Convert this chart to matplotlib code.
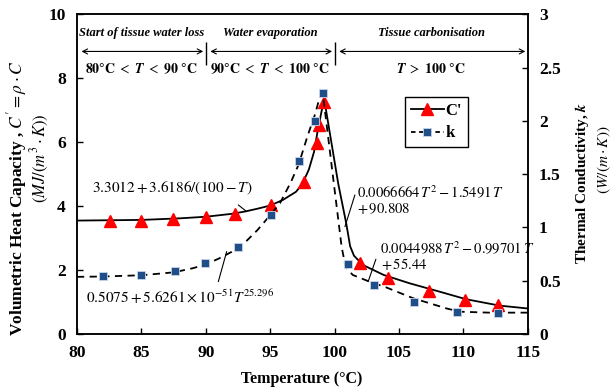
import matplotlib
matplotlib.use("Agg")
import matplotlib.pyplot as plt
from matplotlib.lines import Line2D

plt.rcParams['font.family'] = ['Liberation Serif', 'DejaVu Serif']
plt.rcParams['mathtext.fontset'] = 'stix'

# measured C' points (left axis, MJ/(m3 K))
c_T = [82.6, 85.0, 87.45, 90.0, 92.3, 95.03, 97.65, 98.6, 98.8, 99.17,
       101.99, 104.16, 107.3, 110.13, 112.67]
c_val = [3.55, 3.55, 3.60, 3.65, 3.77, 4.03, 4.77, 5.99, 6.54, 7.27,
         2.21, 1.75, 1.35, 1.05, 0.90]

# measured k points (right axis, W/(m K))
k_T = [82.04, 85.0, 87.6, 89.93, 92.47, 95.03, 97.25, 98.5, 99.07,
       101.03, 103.05, 106.18, 109.47, 112.7]
k_val = [0.545, 0.555, 0.59, 0.67, 0.82, 1.12, 1.62, 2.00, 2.26,
         0.655, 0.457, 0.30, 0.21, 0.20]

# fitted curves
cfit_T = [80, 85, 88, 90, 92, 93, 94, 95, 96, 97, 97.5, 98, 98.4, 98.7, 99.0, 99.2,
          100.28, 100.9, 101.2, 101.5, 102.2, 103.8, 105.8, 108.2, 110.2, 112.8, 115]
cfit_val = [3.55, 3.57, 3.62, 3.67, 3.76, 3.83, 3.92, 4.02, 4.20, 4.45, 4.70, 5.15,
            5.70, 6.40, 7.00, 7.32,
            4.70, 3.46, 2.75, 2.45, 2.16, 1.85, 1.59, 1.32, 1.09, 0.89, 0.80]

kfit_T = [80, 82, 85, 87.5, 89, 90, 91, 92, 93, 94, 95, 95.75, 96.6, 97.2, 97.9,
          98.5, 98.8, 99.07, 100.0, 100.54, 100.85, 101.4, 102.7, 104.0, 106.1,
          108.7, 109.7, 112, 115]
kfit_val = [0.537, 0.540, 0.552, 0.579, 0.618, 0.654, 0.708, 0.771, 0.855, 0.975,
            1.116, 1.227, 1.425, 1.59, 1.86, 2.07, 2.205, 2.268, 1.35, 0.819, 0.63,
            0.555, 0.492, 0.438, 0.336, 0.24, 0.21, 0.201, 0.201]

# phases along the top
phase_edges = [80, 90, 100, 115]
phase_names = ["Start of tissue water loss", "Water evaporation", "Tissue carbonisation"]
phase_ranges = [r"$\mathbf{80°C}\ <\ \mathbfit{T}\ <\ \mathbf{90\ °C}$",
                r"$\mathbf{90°C}\ <\ \mathbfit{T}\ <\ \mathbf{100\ °C}$",
                r"$\mathbfit{T}\ >\ \mathbf{100\ °C}$"]

left_ticks = [0, 2, 4, 6, 8, 10]
right_ticks = [0, 0.5, 1, 1.5, 2, 2.5, 3]
right_labels = ["0", "0.5", "1", "1.5", "2", "2.5", "3"]
x_ticks = [80, 85, 90, 95, 100, 105, 110, 115]

red = '#ff0000'
blue = '#1f4e89'

fig = plt.figure(figsize=(6.11, 3.88), dpi=100)
ax = fig.add_axes([0.126, 0.139, 0.738, 0.824])
ax2 = ax.twinx()

ax.plot(cfit_T, cfit_val, color='black', lw=1.3, zorder=2)
ax.plot(c_T, c_val, linestyle='none', marker='^', ms=8, color=red, mec=red, zorder=3)
ax2.plot(kfit_T, kfit_val, color='black', lw=1.3, linestyle=(0, (4, 3)), zorder=2)
ax2.plot(k_T, k_val, linestyle='none', marker='s', ms=6, color=blue,
         mec='#c9d5ea', mew=0.6, zorder=3)

ax.set_xlim(80, 115)
ax.set_ylim(0, 10)
ax2.set_ylim(0, 3)
ax.set_xticks(x_ticks)
ax.set_yticks(left_ticks)
ax2.set_yticks(right_ticks)
ax2.set_yticklabels(right_labels)

for a in (ax, ax2):
    a.tick_params(direction='in', length=4, width=1, pad=8, labelsize=12.5)
    for lab in a.get_xticklabels() + a.get_yticklabels():
        lab.set_fontweight('bold')
    for sp in a.spines.values():
        sp.set_linewidth(1.1)
ax.tick_params(axis='y', right=False)

# phase annotations
arrow_y = 8.84
for i, name in enumerate(phase_names):
    lo, hi = phase_edges[i], phase_edges[i + 1]
    mid = (lo + hi) / 2
    ax.annotate('', xy=(hi - 0.2, arrow_y), xytext=(lo + 0.35, arrow_y),
                arrowprops=dict(arrowstyle='<->,head_length=0.35,head_width=0.18',
                                color='black', lw=0.8, shrinkA=0, shrinkB=0))
    ax.text(mid, 9.42, name, ha='center', va='center', fontsize=9,
            fontweight='bold', fontstyle='italic')
    ax.text(mid, 8.29, phase_ranges[i], ha='center', va='center', fontsize=10)
ax.vlines(phase_edges[1:3], 8.42, 9.15, color='black', lw=1)

# fit equations with leader lines
eq_kw = dict(fontsize=11, va='center', ha='left')
line_kw = dict(arrowstyle='-', lw=0.8, color='black', shrinkA=0, shrinkB=0)
ax.text(81.2, 4.57, r"$3.3012 + 3.6186/(100 - T)$", **eq_kw)
ax.annotate('', xy=(93.17, 3.83), xytext=(92.52, 4.04), arrowprops=line_kw)
ax.text(80.7, 1.16, r"$0.5075 + 5.6261 \times 10^{-51}T^{25.296}$", **eq_kw)
ax.annotate('', xy=(91.62, 2.58), xytext=(90.97, 1.64), arrowprops=line_kw)
eq_kw['fontsize'] = 10.5
ax.text(101.75, 4.42, r"$0.0066664\,T^2 - 1.5491\,T$", **eq_kw)
ax.text(101.75, 3.93, r"$+\,90.808$", **eq_kw)
ax.annotate('', xy=(100.8, 3.36), xytext=(101.57, 4.35), arrowprops=line_kw)
ax.text(103.51, 2.68, r"$0.0044988\,T^2 - 0.99701\,T$", **eq_kw)
ax.text(103.6, 2.19, r"$+\,55.44$", **eq_kw)
ax.annotate('', xy=(102.6, 1.64), xytext=(103.2, 2.34), arrowprops=line_kw)

# legend
handles = [Line2D([], [], color='black', lw=1.3, marker='^', ms=8, mfc=red, mec=red),
           Line2D([], [], color='black', lw=1.3, linestyle=(0, (2.5, 2)), marker='s', ms=6,
                  mfc=blue, mec='#c9d5ea', mew=0.6)]
leg = ax.legend(handles, ["C'", "k"], loc='upper left', bbox_to_anchor=(0.727, 0.742),
                borderaxespad=0, fancybox=False, edgecolor='black', framealpha=1,
                prop=dict(weight='bold', size=12), handlelength=2.0, handletextpad=0.1,
                borderpad=0.35, labelspacing=0.4)
leg.get_frame().set_linewidth(1.0)

# axis labels
fig.text(302 / 611, 1 - 379 / 388, "Temperature (°C)", ha='center', va='center',
         fontsize=11.5, fontweight='bold')
fig.text(17 / 611, 1 - 198 / 388, r"Volumetric Heat Capacity , $C' = \rho \cdot C$",
         rotation=90, ha='center', va='center', fontsize=12.5, fontweight='bold')
fig.text(40 / 611, 1 - 158 / 388, r"$(MJ/(m^3 \cdot K))$",
         rotation=90, ha='center', va='center', fontsize=12)
fig.text(582 / 611, 1 - 183 / 388, r"Thermal Conductivity, $\mathbfit{k}$",
         rotation=90, ha='center', va='center', fontsize=11, fontweight='bold')
fig.text(604 / 611, 1 - 160 / 388, r"$(W/(m \cdot K))$",
         rotation=90, ha='center', va='center', fontsize=11)

fig.savefig("out.png", dpi=100)
